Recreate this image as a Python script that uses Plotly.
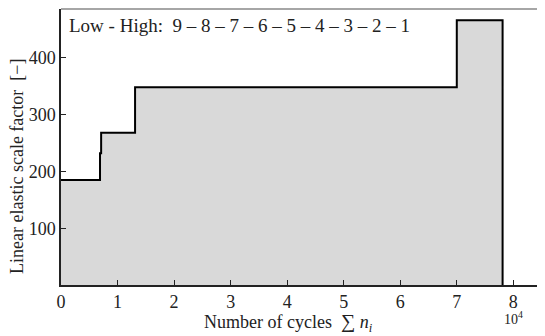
import plotly.graph_objects as go

# step boundaries (units of 10^4 cycles) and scale factor levels
cycles = [0, 0.69, 0.71, 1.31, 7.0, 7.81, 7.81]
scale_factor = [185, 232, 268, 348, 466, 466, 0]
x_ticks = [0, 1, 2, 3, 4, 5, 6, 7, 8]
y_ticks = [100, 200, 300, 400]

FONT = "Liberation Serif"
TXT = "#222"

fig = go.Figure()
fig.add_trace(go.Scatter(
    x=cycles, y=scale_factor, mode="lines", line_shape="hv",
    line=dict(color="black", width=2), fill="tozeroy", fillcolor="#d9d9d9",
    showlegend=False, hoverinfo="skip"))

fig.update_layout(
    width=537, height=328, margin=dict(l=53, r=0, t=1, b=51),
    paper_bgcolor="white", plot_bgcolor="white",
    font=dict(family=FONT, size=18, color=TXT),
    xaxis=dict(range=[0, 8.56], tickvals=x_ticks, ticktext=[str(v) for v in x_ticks],
               ticks="inside", ticklen=5, tickcolor=TXT, showgrid=False, zeroline=False,
               showline=True, linecolor=TXT, linewidth=1.5,
               tickfont=dict(family=FONT, size=18, color=TXT)),
    yaxis=dict(range=[0, 486], tickvals=y_ticks, ticks="inside", ticklen=5, tickcolor=TXT,
               showgrid=False, zeroline=False, showline=True, linecolor=TXT, linewidth=1.5,
               tickfont=dict(family=FONT, size=18, color=TXT)),
)
fig.add_shape(type="line", xref="paper", yref="paper", x0=0, x1=1, y0=1, y1=1,
              line=dict(color="#888", width=1.5))
fig.add_annotation(text="Low - High:  9 – 8 – 7 – 6 – 5 – 4 – 3 – 2 – 1", xref="paper", yref="paper",
                   x=0.012, y=0.985, xanchor="left", yanchor="top", showarrow=False,
                   font=dict(family=FONT, size=19, color=TXT))
fig.add_annotation(text="10<sup>4</sup>", x=8, xref="x", yref="paper", y=-0.078, yanchor="top",
                   showarrow=False, font=dict(family=FONT, size=14, color=TXT))
fig.add_annotation(text="Number of cycles  <span style='font-size:20px'>∑</span> <i>n<sub>i</sub></i>",
                   xref="paper", yref="paper", x=0.47, y=0, yanchor="middle", yshift=-37,
                   showarrow=False, font=dict(family=FONT, size=18, color=TXT))
fig.add_annotation(text="Linear elastic scale factor  [−]", textangle=-90,
                   xref="paper", yref="paper", x=0, xanchor="center", xshift=-44,
                   y=0.431, yanchor="middle", showarrow=False,
                   font=dict(family=FONT, size=18, color=TXT))
fig.write_html("out.html")
